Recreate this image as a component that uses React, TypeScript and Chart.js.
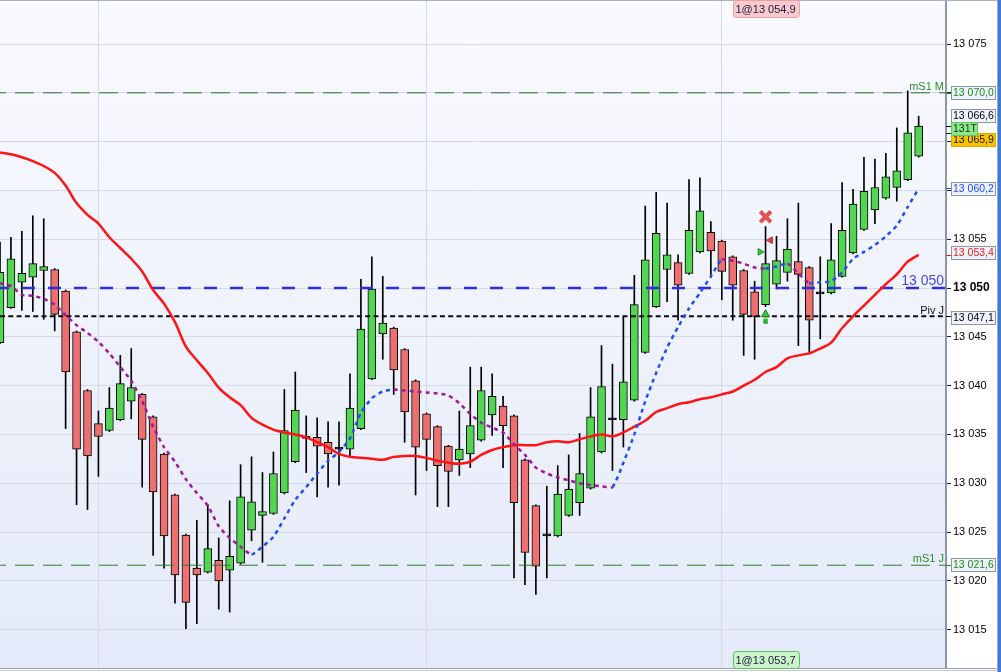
import React, { useEffect, useRef } from 'react';
import { Chart, registerables } from 'chart.js';

Chart.register(...registerables);

const FONT = '"Liberation Sans", Arial, Helvetica, sans-serif';

// ---- candles (one per bar, left to right) ----
const opens = [
  13044.4, 13048.0, 13050.6, 13051.1, 13051.8, 13051.9, 13049.7, 13045.5, 13039.5, 13036.1,
  13035.4, 13036.5, 13038.4, 13039.1, 13036.8, 13033.0, 13028.8, 13024.7, 13021.3, 13020.9,
  13022.1, 13021.1, 13021.8, 13025.2, 13026.7, 13026.9, 13029.0, 13032.2, 13034.8, 13034.7,
  13034.2, 13033.5, 13033.5, 13035.6, 13040.7, 13045.3, 13045.9, 13043.7, 13040.5, 13037.1,
  13035.8, 13033.8, 13032.4, 13033.0, 13034.4, 13037.0, 13037.9, 13036.9, 13032.4, 13027.7,
  13024.6, 13024.6, 13026.7, 13028.0, 13029.5, 13033.2, 13036.5, 13036.5, 13038.5, 13043.4,
  13048.1, 13051.9, 13052.6, 13051.5, 13053.7, 13055.7, 13054.8, 13053.2, 13051.8, 13049.6,
  13048.3, 13050.4, 13051.6, 13052.7, 13052.1, 13049.4, 13049.5, 13051.2, 13053.6, 13056.0,
  13058.0, 13059.2, 13060.3, 13061.1, 13063.5,
];
const highs = [
  13054.7, 13055.2, 13055.8, 13057.4, 13057.1, 13052.0, 13049.8, 13045.6, 13039.6, 13037.4,
  13039.8, 13043.1, 13043.8, 13039.2, 13036.9, 13033.1, 13028.9, 13024.8, 13026.2, 13027.8,
  13024.4, 13028.2, 13031.9, 13032.7, 13031.1, 13033.2, 13039.6, 13041.4, 13036.9, 13036.7,
  13036.3, 13036.3, 13041.2, 13050.9, 13053.2, 13051.2, 13046.0, 13043.8, 13040.6, 13037.2,
  13035.9, 13033.9, 13037.4, 13041.9, 13041.9, 13041.2, 13038.9, 13037.0, 13032.5, 13027.8,
  13029.7, 13031.8, 13032.9, 13035.1, 13039.8, 13044.1, 13042.2, 13047.0, 13051.3, 13058.4,
  13059.8, 13058.7, 13053.4, 13061.1, 13061.3, 13056.8, 13054.9, 13053.3, 13051.9, 13050.7,
  13056.3, 13055.3, 13057.1, 13058.7, 13052.2, 13053.2, 13056.6, 13060.8, 13060.1, 13063.4,
  13063.2, 13063.8, 13066.4, 13070.2, 13067.6,
];
const lows = [
  13044.3, 13047.9, 13047.7, 13047.6, 13046.8, 13045.6, 13035.6, 13027.8, 13027.3, 13030.7,
  13035.3, 13036.4, 13036.6, 13029.6, 13022.6, 13021.3, 13017.7, 13015.1, 13015.6, 13020.8,
  13017.1, 13016.8, 13021.7, 13024.1, 13021.9, 13026.8, 13028.9, 13032.1, 13031.1, 13028.6,
  13029.6, 13029.8, 13032.7, 13035.5, 13040.6, 13042.7, 13039.1, 13034.2, 13028.8, 13031.3,
  13027.6, 13027.6, 13030.8, 13031.6, 13034.3, 13034.9, 13031.6, 13020.3, 13019.6, 13018.6,
  13020.3, 13024.5, 13026.6, 13026.7, 13029.4, 13033.1, 13031.3, 13033.7, 13038.4, 13043.3,
  13048.0, 13048.6, 13046.7, 13051.4, 13053.6, 13051.1, 13048.8, 13046.7, 13043.1, 13042.7,
  13048.1, 13049.9, 13050.7, 13044.1, 13043.4, 13044.8, 13049.4, 13051.1, 13053.5, 13055.9,
  13056.6, 13059.1, 13058.9, 13061.0, 13063.4,
];
const closes = [
  13051.6, 13053.0, 13051.5, 13052.5, 13052.2, 13047.3, 13041.4, 13033.5, 13032.8, 13034.8,
  13037.7, 13040.2, 13039.8, 13034.5, 13029.1, 13024.6, 13020.6, 13017.8, 13020.6, 13023.3,
  13020.0, 13022.5, 13028.6, 13028.1, 13027.1, 13031.0, 13035.4, 13037.5, 13034.6, 13033.8,
  13033.0, 13033.5, 13037.7, 13045.8, 13049.9, 13046.4, 13041.6, 13037.3, 13033.7, 13034.5,
  13031.8, 13031.2, 13033.5, 13035.9, 13039.5, 13038.9, 13035.9, 13028.0, 13022.9, 13021.5,
  13024.6, 13028.9, 13029.4, 13031.0, 13036.8, 13039.9, 13036.5, 13040.4, 13048.3, 13052.9,
  13055.6, 13053.4, 13050.3, 13055.9, 13057.9, 13053.8, 13051.7, 13050.3, 13047.3, 13047.1,
  13052.5, 13052.8, 13054.0, 13051.4, 13046.7, 13049.4, 13052.9, 13055.9, 13058.6, 13059.9,
  13060.3, 13061.4, 13062.0, 13065.9, 13066.6,
];

// ---- moving averages ----
const slowAverage = [
  13063.9, 13063.7, 13063.4, 13063.0, 13062.5, 13061.8, 13060.5, 13058.7, 13057.5, 13056.6,
  13055.2, 13054.1, 13053.0, 13051.7, 13049.8, 13048.4, 13046.5, 13044.0, 13042.6, 13041.3,
  13039.8, 13038.8, 13038.0, 13036.7, 13036.0, 13035.5, 13035.2, 13035.0, 13034.7, 13034.2,
  13033.7, 13033.0, 13032.7, 13032.6, 13032.5, 13032.4, 13032.7, 13032.8, 13032.8, 13032.6,
  13032.3, 13032.1, 13032.0, 13032.2, 13032.9, 13033.4, 13033.7, 13033.9, 13033.9, 13033.9,
  13034.2, 13034.3, 13034.2, 13034.5, 13034.8, 13035.0, 13034.8, 13035.2, 13035.8, 13036.4,
  13037.3, 13037.7, 13038.1, 13038.3, 13038.6, 13038.8, 13039.1, 13039.4, 13040.0, 13040.6,
  13041.4, 13041.9, 13042.8, 13043.1, 13043.3, 13043.8, 13044.4, 13045.9, 13047.1, 13048.2,
  13049.3, 13050.4, 13051.4, 13052.7, 13053.4,
];
const fastAverage = [
  13050.5, 13050.2, 13049.3, 13049.2, 13048.9, 13048.3, 13047.2, 13046.2, 13045.4, 13044.5,
  13043.3, 13041.9, 13040.5, 13038.4, 13035.8, 13033.7, 13032.2, 13030.4, 13029.0, 13027.7,
  13025.6, 13024.4, 13023.5, 13022.7, 13023.5, 13024.5, 13026.4, 13028.3, 13029.6, 13031.0,
  13032.3, 13033.2, 13034.6, 13037.2, 13038.7, 13039.4, 13039.6, 13039.5, 13039.4, 13039.3,
  13039.2, 13039.0, 13038.2, 13037.1, 13036.2, 13035.7, 13035.2, 13034.0, 13032.9, 13031.6,
  13031.0, 13030.6, 13030.3, 13030.0, 13029.8, 13029.7, 13029.6, 13032.1, 13035.0, 13038.4,
  13041.3, 13043.9, 13046.0, 13047.9, 13049.5, 13051.2, 13052.9, 13052.8, 13052.5, 13052.1,
  13052.0, 13052.2, 13052.5, 13051.5, 13050.5, 13050.6, 13050.7, 13051.6, 13053.0, 13053.7,
  13054.4, 13055.3, 13056.4, 13058.3, 13060.2,
];

// ---- axes ----
const X_MIN = 0;
const X_MAX = 86.5;
const Y_MIN = 13011.07;
const Y_MAX = 13079.51;
const yTicks = [13015, 13020, 13025, 13030, 13035, 13040, 13045, 13050, 13055, 13060, 13065, 13070, 13075];
const yTickLabels = ['13 015', '13 020', '13 025', '13 030', '13 035', '13 040', '13 045', '13 050', '13 055', '', '', '', '13 075'];
const xGridAt = [9, 39, 66];

// ---- horizontal levels ----
const levelValues = [13070.0, 13050.0, 13047.1, 13021.6];
const levelNames = ['mS1 M', '13 050', 'Piv J', 'mS1 J'];

// ---- price boxes on the axis ----
const axisMarkValues = [13070.0, 13066.6, 13065.9, 13060.2, 13053.4, 13047.1, 13021.6];
const axisMarkLabels = ['13 070,0', '13 066,6', '13 065,9', '13 060,2', '13 053,4', '13 047,1', '13 021,6'];
const timerLabel = '131T';

// ---- trade ----
const tradeIndex = 70;
const tradeLabels = ['1@13 054,9', '1@13 053,7'];
const signalX = [70, 70.45, 69.5, 70, 70];
const signalY = [13057.3, 13054.9, 13053.7, 13047.3, 13046.6];

const GREEN = '#52d652';
const RED = '#ec7070';
const BLUE_DOT = '#1f4ff2';
const PURPLE_DOT = '#a0189f';

const levelStyles = [
  { color: '#2f6f2f', width: 1, dash: [19, 9], offset: 13 },
  { color: '#2e2ee0', width: 2.5, dash: [13, 13], offset: 4 },
  { color: '#0c0c0c', width: 2, dash: [5, 3.3], offset: 0 },
  { color: '#2f7a2f', width: 1, dash: [19, 9], offset: 13 },
];
const levelLabelStyles = [
  { color: '#2a8a2a', size: 11, dy: -3 },
  { color: '#4a4ad8', size: 14, dy: -3.5 },
  { color: '#111111', size: 11, dy: -2.5 },
  { color: '#2a8a2a', size: 11, dy: -3.5 },
];
const axisBoxStyles = [
  { fg: '#1a8c1a', bg: '#eef2fa', shift: 0.5 },
  { fg: '#000000', bg: '#eef2fa', shift: -10.5 },
  { fg: '#1a1a1a', bg: '#f7c300', shift: 6.7 },
  { fg: '#1d4ff2', bg: '#eef2fa', shift: 1 },
  { fg: '#ea1c1c', bg: '#eef2fa', shift: -1.5 },
  { fg: '#000000', bg: '#eef2fa', shift: 1.7 },
  { fg: '#1a8c1a', bg: '#eef2fa', shift: 0 },
];

const decorPlugin = {
  id: 'decor',
  beforeDraw(chart: any) {
    const { ctx, chartArea: a, width, height } = chart;
    ctx.save();
    ctx.fillStyle = '#ffffff';
    ctx.fillRect(0, 0, width, height);
    const g = ctx.createLinearGradient(0, a.top, 0, a.bottom);
    g.addColorStop(0, '#f9fafe');
    g.addColorStop(1, '#e4eaf9');
    ctx.fillStyle = g;
    ctx.fillRect(a.left, a.top, a.right - a.left, a.bottom - a.top);
    ctx.restore();
  },
  afterDatasetsDraw(chart: any) {
    const { ctx, chartArea: a } = chart;
    const y = chart.scales.y;
    ctx.save();
    ctx.textAlign = 'right';
    ctx.textBaseline = 'alphabetic';
    levelValues.forEach((v, k) => {
      const st = levelLabelStyles[k];
      ctx.font = `${st.size}px ${FONT}`;
      ctx.fillStyle = st.color;
      ctx.fillText(levelNames[k], a.right - 2, y.getPixelForValue(v) + st.dy);
    });
    ctx.restore();
  },
  afterDraw(chart: any) {
    const { ctx, chartArea: a, width, height } = chart;
    const y = chart.scales.y;
    const x = chart.scales.x;
    ctx.save();
    // frame
    ctx.fillStyle = '#a9b1bd';
    ctx.fillRect(0, 0, width, 1);
    ctx.fillStyle = '#9aa3ae';
    ctx.fillRect(0, a.bottom, width, 1);
    ctx.fillStyle = '#c3c9d1';
    ctx.fillRect(0, a.bottom + 2, width, 1);
    ctx.fillStyle = '#a0a8b4';
    ctx.fillRect(width - 4, 0, 1, height);
    ctx.fillStyle = '#3c7bd9';
    ctx.fillRect(width - 3, 0, 3, height);

    // axis price boxes
    ctx.font = `10.5px ${FONT}`;
    ctx.textBaseline = 'middle';
    ctx.textAlign = 'left';
    const bx = a.right + 5;
    const bw = 45;
    const drawBox = (cy: number, bg: string, border: string, fg: string, text: string, w: number) => {
      ctx.fillStyle = bg;
      ctx.fillRect(bx, Math.round(cy - 7), w, 14);
      ctx.strokeStyle = border;
      ctx.lineWidth = 1;
      ctx.strokeRect(bx + 0.5, Math.round(cy - 7) + 0.5, w - 1, 13);
      ctx.fillStyle = fg;
      ctx.fillText(text, bx + 2, Math.round(cy) + 0.5);
    };
    axisMarkValues.forEach((v, k) => {
      const st = axisBoxStyles[k];
      const py = y.getPixelForValue(v);
      ctx.strokeStyle = st.fg;
      ctx.lineWidth = 1;
      ctx.beginPath();
      ctx.moveTo(a.right, Math.round(py) + 0.5);
      ctx.lineTo(a.right + 5, Math.round(py) + 0.5);
      ctx.stroke();
      drawBox(py + st.shift, st.bg, st.bg === '#f7c300' ? '#e0a800' : '#8c97a6', st.fg, axisMarkLabels[k], bw);
      if (k === 2) {
        drawBox(py - 3.5, '#8ee68e', '#66c466', '#0a3a0a', timerLabel, 27);
      }
    });

    // trade labels (top & bottom)
    const tx = x.getPixelForValue(tradeIndex);
    const drawTag = (top: number, bg: string, border: string, text: string) => {
      const w = 66, h = 17, left = Math.round(tx - w / 2) + 0.5, r = 3;
      ctx.beginPath();
      ctx.moveTo(left + r, top);
      ctx.lineTo(left + w - r, top);
      ctx.quadraticCurveTo(left + w, top, left + w, top + r);
      ctx.lineTo(left + w, top + h - r);
      ctx.quadraticCurveTo(left + w, top + h, left + w - r, top + h);
      ctx.lineTo(left + r, top + h);
      ctx.quadraticCurveTo(left, top + h, left, top + h - r);
      ctx.lineTo(left, top + r);
      ctx.quadraticCurveTo(left, top, left + r, top);
      ctx.closePath();
      ctx.fillStyle = bg;
      ctx.fill();
      ctx.strokeStyle = border;
      ctx.lineWidth = 1;
      ctx.stroke();
      ctx.fillStyle = '#1c1c3a';
      ctx.textAlign = 'center';
      ctx.textBaseline = 'middle';
      ctx.font = `11px ${FONT}`;
      ctx.fillText(text, tx, top + h / 2 + 0.5);
    };
    drawTag(0.5, '#f9c9cd', '#e6a0a6', tradeLabels[0]);
    drawTag(a.bottom - 16.5, '#ccf4cc', '#5cbf5c', tradeLabels[1]);
    ctx.restore();
  },
};

function buildConfig(): any {
  const idx = opens.map((_, i) => i);
  const bodyColors = opens.map((o, i) => (closes[i] > o ? GREEN : closes[i] < o ? RED : '#000000'));
  const levelSets = levelValues.map((v, k) => ({
    type: 'line',
    data: [{ x: X_MIN, y: v }, { x: X_MAX, y: v }],
    borderColor: levelStyles[k].color,
    borderWidth: levelStyles[k].width,
    borderDash: levelStyles[k].dash,
    borderDashOffset: levelStyles[k].offset,
    pointRadius: 0,
    order: 3,
    clip: 0,
  }));
  const signalStyles = [
    { pointStyle: 'crossRot', radius: 7.5, bw: 4, bc: '#e35050', bg: '#e35050', rot: 0 },
    { pointStyle: 'triangle', radius: 3.8, bw: 1, bc: '#c42020', bg: '#e84040', rot: -90 },
    { pointStyle: 'triangle', radius: 3.8, bw: 1, bc: '#1c8c1c', bg: '#3cc83c', rot: 90 },
    { pointStyle: 'triangle', radius: 4.6, bw: 1, bc: '#177a17', bg: '#3cc83c', rot: 0 },
    { pointStyle: 'line', radius: 2.6, bw: 4.5, bc: '#2fb02f', bg: '#2fb02f', rot: 90 },
  ];
  const signalSets = signalX.map((sx, k) => ({
    type: 'line',
    showLine: false,
    data: [{ x: sx, y: signalY[k] }],
    pointStyle: signalStyles[k].pointStyle,
    pointRadius: signalStyles[k].radius,
    pointBorderWidth: signalStyles[k].bw,
    pointBorderColor: signalStyles[k].bc,
    pointBackgroundColor: signalStyles[k].bg,
    pointRotation: signalStyles[k].rot,
    order: 0,
  }));

  return {
    type: 'bar',
    data: {
      datasets: [
        {
          type: 'bar',
          data: idx.map((i) => ({ x: i, y: [lows[i], highs[i]] })),
          backgroundColor: '#000000',
          borderWidth: 0,
          barThickness: 1,
          grouped: false,
          order: 6,
          clip: 0,
        },
        {
          type: 'bar',
          data: idx.map((i) => ({ x: i, y: [opens[i], closes[i]] })),
          backgroundColor: bodyColors,
          borderColor: '#000000',
          borderWidth: 1,
          borderSkipped: false,
          barThickness: 8,
          minBarLength: 2,
          grouped: false,
          order: 5,
          clip: 0,
        },
        ...levelSets,
        {
          type: 'line',
          data: idx.map((i) => ({ x: i, y: slowAverage[i] })),
          borderColor: '#ff1414',
          borderWidth: 2.5,
          pointRadius: 0,
          tension: 0.3,
          order: 2,
          clip: 0,
        },
        {
          type: 'line',
          data: idx.map((i) => ({ x: i, y: fastAverage[i] })),
          borderColor: PURPLE_DOT,
          borderWidth: 2.5,
          borderDash: [4, 4],
          pointRadius: 0,
          tension: 0.2,
          segment: {
            borderColor: (c: any) => (c.p1.parsed.y >= c.p0.parsed.y ? BLUE_DOT : PURPLE_DOT),
          },
          order: 1,
          clip: 0,
        },
        ...signalSets,
      ],
    },
    options: {
      responsive: false,
      maintainAspectRatio: false,
      devicePixelRatio: 1,
      animation: false,
      events: [],
      layout: { padding: 0, autoPadding: false },
      plugins: { legend: { display: false }, tooltip: { enabled: false }, title: { display: false } },
      scales: {
        x: {
          type: 'linear',
          min: X_MIN,
          max: X_MAX,
          offset: false,
          display: true,
          grid: { color: '#d5dae6', lineWidth: 1, drawTicks: false, offset: false },
          border: { display: false },
          ticks: { display: false },
          afterBuildTicks: (s: any) => {
            s.ticks = xGridAt.map((v) => ({ value: v }));
          },
          afterFit: (s: any) => {
            s.height = 4;
            s.paddingLeft = 0;
            s.paddingRight = 0;
            s.paddingTop = 0;
            s.paddingBottom = 0;
          },
        },
        y: {
          type: 'linear',
          position: 'right',
          min: Y_MIN,
          max: Y_MAX,
          grid: { color: '#d5dae6', lineWidth: 1, drawTicks: true, tickLength: 5, tickColor: '#222222' },
          border: { display: true, color: '#8a97a8', width: 2 },
          ticks: {
            autoSkip: false,
            padding: 2,
            color: '#000000',
            callback: (_v: any, i: number) => yTickLabels[i],
            font: (c: any) =>
              c.tick && c.tick.value === 13050
                ? { family: FONT, size: 12, weight: 'bold' }
                : { family: FONT, size: 11, weight: 'normal' },
          },
          afterBuildTicks: (s: any) => {
            s.ticks = yTicks.map((v) => ({ value: v }));
          },
          afterFit: (s: any) => {
            s.width = 55;
            s.paddingTop = 0;
            s.paddingBottom = 0;
          },
        },
      },
    },
    plugins: [decorPlugin],
  };
}

export default function App() {
  const ref = useRef<HTMLCanvasElement>(null);
  useEffect(() => {
    document.body.style.margin = '0';
    const canvas = ref.current;
    if (!canvas) return;
    const chart = new Chart(canvas, buildConfig());
    return () => chart.destroy();
  }, []);
  return (
    <div style={{ position: 'absolute', left: 0, top: 0, width: 1001, height: 672, background: '#ffffff' }}>
      <canvas ref={ref} width={1001} height={672} style={{ display: 'block', width: 1001, height: 672 }} />
    </div>
  );
}
